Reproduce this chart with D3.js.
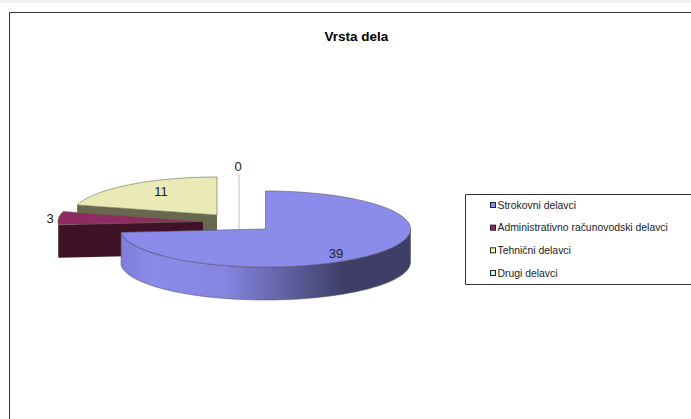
<!DOCTYPE html>
<html lang="en">
<head>
    <meta charset="UTF-8">
    <title>Vrsta dela</title>
    <script src="https://d3js.org/d3.v7.min.js"></script>
    <style>
        html, body { margin: 0; padding: 0; background: #fff; overflow: hidden; }
        svg { display: block; font-family: "Liberation Sans", Arial, sans-serif; }
    </style>
</head>
<body>
<div id="chart"></div>
<script>
    const title = "Vrsta dela";
    const categories = ["Strokovni delavci", "Administrativno računovodski delavci", "Tehnični delavci", "Drugi delavci"];
    const values = [39, 3, 11, 0];
    const topColors = ["#8b8beb", "#8e2b60", "#eaeab6", "#c8f5f5"];
    const wallColors = ["#3e3e68", "#3f1228", "#68684e", "#5f7575"];
    const swatchColors = ["#8b8beb", "#8e2b60", "#ffffb0", "#c8f5f5"];

    const width = 691, height = 419;
    const rx = 145, ry = 38, depth = 33;
    const centerX = 265.5, centerY = 229;
    // how far each slice is pulled out of the pie
    const offsets = [[0, 0], [-62.5, -7.5], [-48.5, -14], [-26, -10]];

    const svg = d3.select("#chart").append("svg")
        .attr("width", width)
        .attr("height", height);

    const grad = svg.append("defs").append("linearGradient")
        .attr("id", "rimGrad")
        .attr("gradientUnits", "userSpaceOnUse")
        .attr("x1", centerX - rx).attr("x2", centerX + rx)
        .attr("y1", 0).attr("y2", 0);
    [[0, "#7f7fd9"], [0.12, "#8a8ae9"], [0.36, "#8585e0"], [0.77, "#3e3e68"], [1, "#3e3e68"]].forEach(s => {
        grad.append("stop").attr("offset", s[0]).attr("stop-color", s[1]);
    });

    // page band and chart frame
    svg.append("rect").attr("width", width).attr("height", 3).attr("fill", "#f0f0f0");
    svg.append("path")
        .attr("d", `M9.5,${height}V12.5H${width}`)
        .attr("fill", "none")
        .attr("stroke", "#333");

    svg.append("text")
        .attr("x", 356.5).attr("y", 40.5)
        .attr("text-anchor", "middle")
        .attr("font-size", 13.5)
        .attr("font-weight", "bold")
        .attr("fill", "#000")
        .text(title);

    const pie = d3.pie().sort(null).value(d => d)(values);

    const px = d3.scaleLinear().domain([-1, 1]).range([-rx, rx]);
    const py = d3.scaleLinear().domain([-1, 1]).range([-ry, ry]);
    const line = d3.line();

    // angle is clockwise from 12 o'clock, as in d3.pie
    function rimPoint(a, ox, oy, dz) {
        return [ox + px(Math.sin(a)), oy + py(-Math.cos(a)) + dz];
    }
    function arcPoints(a0, a1, ox, oy, dz) {
        const n = Math.max(2, Math.ceil(Math.abs(a1 - a0) / 0.01));
        return d3.range(n + 1).map(i => rimPoint(a0 + (a1 - a0) * i / n, ox, oy, dz));
    }

    // zero slice only has its leader line
    svg.append("line")
        .attr("x1", 239).attr("x2", 239)
        .attr("y1", 175).attr("y2", 230)
        .attr("stroke", "#c0c0c0");

    const edge = "#55556a";
    [2, 1, 0].forEach(i => {
        const s = pie[i];
        const ox = centerX + offsets[i][0], oy = centerY + offsets[i][1];
        const g = svg.append("g");

        // cut face along the starting edge, the big slice has its own hidden
        if (i !== 0) {
            const start = rimPoint(s.startAngle, ox, oy, 0);
            g.append("path")
                .attr("d", line([[ox, oy], start, [start[0], start[1] + depth], [ox, oy + depth]]) + "Z")
                .attr("fill", wallColors[i]);
        }

        // outer rim, only the part that faces the viewer
        const a0 = Math.max(s.startAngle, Math.PI / 2);
        const a1 = Math.min(s.endAngle, 1.5 * Math.PI);
        if (a1 > a0) {
            const front = arcPoints(a0, a1, ox, oy, 0);
            const back = arcPoints(a1, a0, ox, oy, depth);
            g.append("path")
                .attr("d", line(front.concat(back)) + "Z")
                .attr("fill", i === 0 ? "url(#rimGrad)" : wallColors[i])
                .attr("stroke", i === 0 ? edge : "none")
                .attr("stroke-width", 0.6);
        }

        // top face
        g.append("path")
            .attr("d", line([[ox, oy]].concat(arcPoints(s.startAngle, s.endAngle, ox, oy, 0))) + "Z")
            .attr("fill", topColors[i])
            .attr("stroke", i === 0 ? edge : "#66664f")
            .attr("stroke-width", 0.6);
    });

    // data labels
    const labelPos = [[336, 258], [50, 223], [161, 196], [238, 171]];
    values.forEach((v, i) => {
        svg.append("text")
            .attr("x", labelPos[i][0]).attr("y", labelPos[i][1])
            .attr("text-anchor", "middle")
            .attr("font-size", 13)
            .attr("fill", "#222")
            .text(v);
    });

    // legend
    const legendRows = d3.scalePoint().domain(categories).range([205, 273]);
    svg.append("path")
        .attr("d", `M${width},194.5H465.5V284.5H${width}`)
        .attr("fill", "none")
        .attr("stroke", "#333");
    const legend = svg.selectAll(".legend-row")
        .data(categories)
        .enter().append("g")
        .attr("class", "legend-row")
        .attr("transform", d => `translate(490,${legendRows(d)})`);
    legend.append("rect")
        .attr("x", 0.5).attr("y", -2.5)
        .attr("width", 5).attr("height", 5)
        .attr("fill", (d, i) => swatchColors[i])
        .attr("stroke", "#222");
    legend.append("text")
        .attr("x", 7.5).attr("y", 3.5)
        .attr("font-size", 10.4)
        .attr("fill", "#222")
        .text(d => d);
</script>
</body>
</html>
